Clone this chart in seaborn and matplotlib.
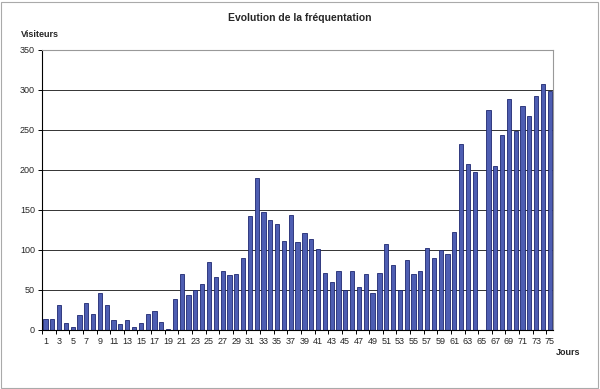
import matplotlib
matplotlib.use("Agg")
import matplotlib.pyplot as plt
import seaborn as sns
import pandas as pd
import numpy as np
from matplotlib.patches import Rectangle

days = list(range(1, 76))
visitors = [14, 14, 31, 8, 3, 18, 34, 20, 46, 31,
            12, 7, 12, 3, 8, 20, 23, 10, 1, 38,
            70, 44, 50, 57, 85, 66, 73, 68, 70, 90,
            143, 190, 147, 138, 132, 111, 144, 110, 121, 114,
            101, 71, 60, 74, 50, 74, 54, 70, 46, 71,
            107, 81, 50, 88, 70, 74, 102, 90, 100, 95,
            123, 233, 207, 197, 0, 275, 205, 244, 289, 249,
            280, 267, 292, 307, 299]
y_ticks = [0, 50, 100, 150, 200, 250, 300, 350]

df = pd.DataFrame({"Jour": [str(d) for d in days], "Visiteurs": visitors})

sns.set_theme(style="white")
plt.rcParams["font.family"] = ["Liberation Sans", "DejaVu Sans"]

fig = plt.figure(figsize=(6, 3.89), dpi=100)
ax = fig.add_axes([0.07, 0.152, 0.852, 0.7195])

sns.barplot(data=df, x="Jour", y="Visiteurs", ax=ax, color="#4E5EB2",
            edgecolor="#1E2870", linewidth=0.6, width=0.62, saturation=1)

ax.set_ylim(0, 350)
ax.set_xlim(-0.5, len(days) - 0.5)
ax.set_yticks(y_ticks)
ax.set_yticklabels([str(v) for v in y_ticks], fontsize=6.5)
ax.set_xticks(range(0, len(days), 2))
ax.set_xticklabels([str(d) for d in days[::2]], fontsize=6.5)
ax.set_xticks(np.arange(-0.5, len(days), 2), minor=True)
ax.yaxis.grid(True, color="#333333", linewidth=0.7)
ax.set_axisbelow(True)
ax.tick_params(axis="y", left=True, length=3, width=0.7, color="black", pad=2, direction="out")
ax.tick_params(axis="x", which="major", bottom=True, length=0, pad=5)
ax.tick_params(axis="x", which="minor", bottom=True, length=3, width=0.7, color="black", direction="out")
ax.set_xlabel("")
ax.set_ylabel("")
for s in ["left", "bottom"]:
    ax.spines[s].set_color("black")
    ax.spines[s].set_linewidth(0.8)
for s in ["top", "right"]:
    ax.spines[s].set_color("#999999")
    ax.spines[s].set_linewidth(0.8)

fig.text(0.5, 0.953, "Evolution de la fréquentation", ha="center", va="center",
         fontsize=7.5, fontweight="bold")
fig.text(0.035, 0.912, "Visiteurs", ha="left", va="center", fontsize=6.5, fontweight="bold")
fig.text(0.946, 0.095, "Jours", ha="center", va="center", fontsize=6.5, fontweight="bold")

fig.patches.append(Rectangle((0.002, 0.003), 0.995, 0.993, transform=fig.transFigure,
                             fill=False, edgecolor="#AAAAAA", linewidth=0.8))

fig.savefig("out.png", dpi=100)
